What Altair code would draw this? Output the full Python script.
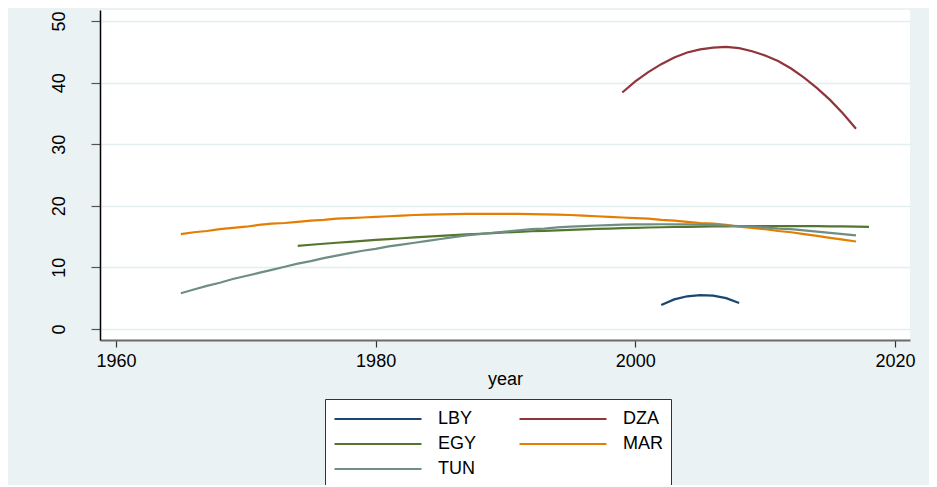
import altair as alt
import pandas as pd

countries = ["LBY", "DZA", "EGY", "MAR", "TUN"]
colors = ["#1A476F", "#90353B", "#55752F", "#E37E00", "#6E8E84"]

lby_start = 2002
lby = [3.9, 4.8, 5.3, 5.5, 5.4, 5.0, 4.2]

dza_start = 1999
dza = [38.4, 40.2, 41.7, 43.0, 44.1, 44.9, 45.4, 45.7, 45.8, 45.6, 45.1, 44.4,
       43.5, 42.3, 40.8, 39.1, 37.2, 35.0, 32.5]

egy_start = 1974
egy = [13.5, 13.67, 13.83, 14.0, 14.15, 14.3, 14.45, 14.6, 14.73, 14.87, 15.0,
       15.12, 15.24, 15.35, 15.46, 15.57, 15.67, 15.76, 15.86, 15.94, 16.02,
       16.1, 16.17, 16.24, 16.3, 16.36, 16.42, 16.47, 16.51, 16.55, 16.59,
       16.62, 16.64, 16.66, 16.68, 16.69, 16.7, 16.7, 16.7, 16.69, 16.68,
       16.66, 16.64, 16.62, 16.59]

mar_start = 1965
mar = [15.4, 15.7, 15.9, 16.2, 16.4, 16.6, 16.9, 17.1, 17.2, 17.4, 17.6, 17.7,
       17.9, 18.0, 18.1, 18.2, 18.3, 18.4, 18.5, 18.56, 18.61, 18.65, 18.68,
       18.69, 18.7, 18.69, 18.68, 18.65, 18.61, 18.56, 18.5, 18.4, 18.3, 18.2,
       18.1, 18.0, 17.9, 17.7, 17.6, 17.4, 17.2, 17.1, 16.9, 16.6, 16.4, 16.2,
       15.9, 15.7, 15.4, 15.1, 14.8, 14.5, 14.2]

tun_start = 1965
tun = [5.8, 6.4, 7.0, 7.5, 8.1, 8.6, 9.1, 9.6, 10.1, 10.6, 11.0, 11.5, 11.9,
       12.3, 12.7, 13.0, 13.4, 13.7, 14.0, 14.3, 14.6, 14.9, 15.2, 15.4, 15.6,
       15.8, 16.0, 16.2, 16.3, 16.5, 16.6, 16.7, 16.8, 16.87, 16.93, 16.97,
       16.99, 17.0, 16.99, 16.97, 16.93, 16.87, 16.8, 16.7, 16.6, 16.5, 16.3,
       16.2, 16.0, 15.8, 15.6, 15.4, 15.2]

x_ticks = [1960, 1980, 2000, 2020]
y_ticks = [0, 10, 20, 30, 40, 50]

series = {"LBY": (lby_start, lby), "DZA": (dza_start, dza), "EGY": (egy_start, egy),
          "MAR": (mar_start, mar), "TUN": (tun_start, tun)}
rows = []
for c, (start, vals) in series.items():
    for i, v in enumerate(vals):
        rows.append({"country": c, "year": start + i, "value": v})
df = pd.DataFrame(rows)

FONT = "Liberation Sans"
FS = 18

chart = alt.Chart(df).mark_line(strokeWidth=2.2, clip=True).encode(
    x=alt.X("year:Q", scale=alt.Scale(domain=[1958.77, 2021.16], nice=False, zero=False),
            axis=alt.Axis(values=x_ticks, format="d", title="year", grid=False,
                          domainColor="#6b6b6b", domainWidth=2, tickColor="#333333",
                          tickSize=7, tickWidth=1.2, labelPadding=5, labelFontSize=FS,
                          labelColor="#000000", labelFont=FONT, titleFont=FONT,
                          titleFontSize=FS, titleFontWeight="normal", titleColor="#000000",
                          titlePadding=0)),
    y=alt.Y("value:Q", scale=alt.Scale(domain=[-1.8, 51.8], nice=False, zero=False),
            axis=alt.Axis(values=y_ticks, title=None, grid=True, gridColor="#E4EDEF",
                          gridWidth=1.5, domainColor="#000000", domainWidth=1.5,
                          tickColor="#555555", tickSize=9, tickWidth=1.2,
                          labelAngle=270, labelAlign="center", labelBaseline="alphabetic",
                          labelPadding=27, labelFontSize=FS, labelColor="#000000",
                          labelFont=FONT)),
    color=alt.Color("country:N",
                    scale=alt.Scale(domain=countries, range=colors),
                    sort=countries,
                    legend=alt.Legend(title=None, orient="none", legendX=225, legendY=389,
                                      direction="horizontal", columns=2, columnPadding=37,
                                      rowPadding=4, gridAlign="all",
                                      symbolType="M-4,0H4", symbolSize=473,
                                      symbolOffset=33,
                                      symbolStrokeWidth=2, labelFontSize=FS,
                                      labelFont=FONT, labelColor="#000000", labelOffset=48,
                                      padding=8, strokeColor="#333333", fillColor="#ffffff")),
).properties(
    width=810, height=330,
    background="#EAF2F3",
    padding={"left": 92, "top": 2, "right": 19, "bottom": 145},
    autosize=alt.AutoSizeParams(type="none"),
).configure_view(fill="#ffffff", stroke=None)

chart.save("out.html", embed_options={"renderer": "svg", "actions": False})
